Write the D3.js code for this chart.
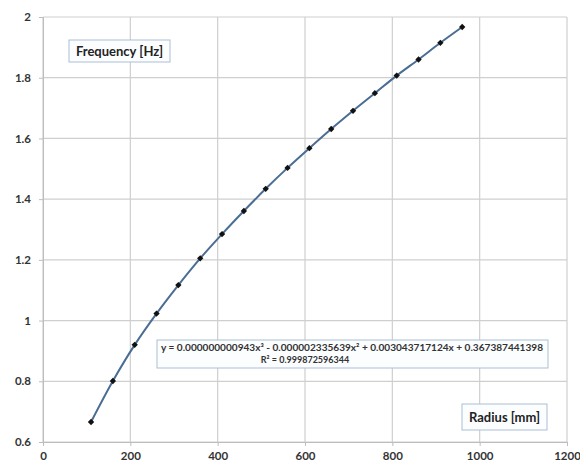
<!DOCTYPE html>
<html>
<head>
<meta charset="utf-8">
<script src="https://cdn.jsdelivr.net/npm/d3@7"></script>
<style>
  body { margin: 0; background: #fff; }
  svg { display: block; font-family: Lato, "Open Sans", sans-serif; }
</style>
</head>
<body>
<svg id="chart" width="580" height="466"></svg>
<script>
// data
var radius = [110, 160, 210, 260, 310, 360, 410, 460, 510, 560, 610, 660, 710, 760, 810, 860, 910, 960];
var freq   = [0.666, 0.801, 0.920, 1.023, 1.117, 1.205, 1.285, 1.361, 1.434, 1.503, 1.568, 1.631, 1.691, 1.749, 1.807, 1.860, 1.915, 1.967];
var xTicks = [0, 200, 400, 600, 800, 1000, 1200];
var yTicks = [0.6, 0.8, 1, 1.2, 1.4, 1.6, 1.8, 2];
var eqText = "y = 0.000000000943x\u00B3  - 0.000002335639x\u00B2  + 0.003043717124x + 0.367387441398";
var r2Text = "R\u00B2 = 0.999872596344";

var svg = d3.select("#chart");
// plot area (window.top is reserved, so own names)
var pLeft = 43, pRight = 567, pTop = 17, pBottom = 442;

var x = d3.scaleLinear().domain([0, 1200]).range([pLeft, pRight]);
var y = d3.scaleLinear().domain([0.6, 2]).range([pBottom, pTop]);

// grid
svg.append("g").selectAll("line")
    .data(xTicks).enter().append("line")
    .attr("x1", function(d){ return x(d); }).attr("x2", function(d){ return x(d); })
    .attr("y1", pTop).attr("y2", pBottom)
    .style("stroke", "#cfcfcf").style("stroke-width", 1.2);
svg.append("g").selectAll("line")
    .data(yTicks).enter().append("line")
    .attr("x1", pLeft).attr("x2", pRight)
    .attr("y1", function(d){ return y(d); }).attr("y2", function(d){ return y(d); })
    .style("stroke", "#cfcfcf").style("stroke-width", 1.2);

// axes
var xAxis = svg.append("g")
    .attr("transform", "translate(0," + pBottom + ")")
    .call(d3.axisBottom(x).tickValues(xTicks).tickSize(4).tickPadding(6).tickFormat(d3.format("d")));
var yAxis = svg.append("g")
    .attr("transform", "translate(" + pLeft + ",0)")
    .call(d3.axisLeft(y).tickValues(yTicks).tickSize(4).tickPadding(8).tickFormat(function(d){ return +d.toFixed(1); }));
[xAxis, yAxis].forEach(function(a){
  a.select(".domain").style("stroke", "#bdbdbd");
  a.selectAll(".tick line").style("stroke", "#bdbdbd");
  a.selectAll(".tick text")
      .style("font-size", "11.5px").style("font-weight", "bold").style("fill", "#333")
      .style("font-family", "Lato, sans-serif");
});

var pts = radius.map(function(r, i){ return [r, freq[i]]; });

// smoothed line
var line = d3.line()
    .x(function(d){ return x(d[0]); })
    .y(function(d){ return y(d[1]); })
    .curve(d3.curveCatmullRom);
svg.append("path")
    .datum(pts)
    .attr("d", line)
    .style("fill", "none")
    .style("stroke", "#4a6d93")
    .style("stroke-width", 2);

// markers - small square diamonds
svg.append("g").selectAll("path")
    .data(pts).enter().append("path")
    .attr("transform", function(d){ return "translate(" + x(d[0]) + "," + y(d[1]) + ") rotate(45)"; })
    .attr("d", d3.symbol().type(d3.symbolSquare).size(20))
    .style("fill", "#111");

// label boxes
function box(x0, y0, w, h) {
  svg.append("rect")
      .attr("x", x0).attr("y", y0).attr("width", w).attr("height", h)
      .style("fill", "#fbfdff").style("stroke", "#a9bfd6").style("stroke-width", 1);
}
box(69, 40, 101, 22);
svg.append("text").attr("x", 119.5).attr("y", 56)
    .attr("text-anchor", "middle")
    .style("font-size", "13px").style("font-weight", "bold").style("fill", "#222")
    .text("Frequency [Hz]");

box(462, 404, 85, 26);
svg.append("text").attr("x", 504.5).attr("y", 421.5)
    .attr("text-anchor", "middle")
    .style("font-size", "13px").style("font-weight", "bold").style("fill", "#222")
    .text("Radius [mm]");

box(157, 340, 391, 28);
svg.append("text").attr("x", 161).attr("y", 350.5)
    .attr("textLength", 382).attr("lengthAdjust", "spacingAndGlyphs")
    .style("font-size", "9px").style("font-weight", "bold").style("fill", "#333")
    .text(eqText);
svg.append("text").attr("x", 305).attr("y", 362.5)
    .attr("text-anchor", "middle")
    .style("font-size", "9px").style("font-weight", "bold").style("fill", "#333")
    .text(r2Text);
</script>
</body>
</html>
